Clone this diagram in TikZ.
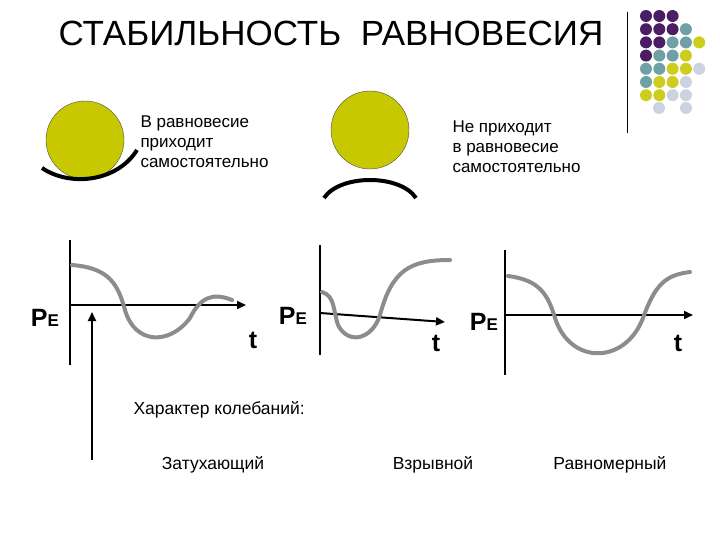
\documentclass[tikz,border=0pt]{standalone}
\usepackage{fontspec}
\setmainfont{Liberation Sans}
\usetikzlibrary{arrows.meta}
\definecolor{olv}{RGB}{200,200,0}
\definecolor{pur}{RGB}{75,30,100}
\definecolor{tea}{RGB}{110,160,165}
\definecolor{ylw}{RGB}{205,205,30}
\definecolor{lgr}{RGB}{205,210,225}
\begin{document}
\begin{tikzpicture}[x=1pt,y=-1pt,
  axis/.style={line width=2pt},
  arr/.style={line width=2pt,-{Triangle[length=9pt,width=8pt]}},
  curve/.style={line width=4pt,color=black!45,line cap=round},
  ball/.style={circle,draw=black!70,fill=olv,minimum size=78pt,inner sep=0pt},
  lbl/.style={font=\fontsize{17}{20}\selectfont,align=left,anchor=north west},
  txt/.style={font=\fontsize{17.5}{20}\selectfont},
  pe/.style={font=\fontsize{25}{25}\selectfont\bfseries},
  dot/.style={circle,inner sep=0pt,minimum size=12pt}]
\useasboundingbox (0,0) rectangle (720,540);
\node (title) at (331,33) {\fontsize{35}{35}\selectfont СТАБИЛЬНОСТЬ\ \ РАВНОВЕСИЯ};
\draw[line width=1pt] (627,12) -- (627,133);
\foreach \r/\cols in {0/{pur,pur,pur},1/{pur,pur,pur,tea},2/{pur,pur,tea,tea,ylw},3/{pur,tea,tea,ylw},4/{tea,tea,ylw,ylw,lgr},5/{tea,ylw,ylw,lgr},6/{ylw,ylw,lgr,lgr}}{
  \foreach \c [count=\i from 0] in \cols {
    \node[dot,fill=\c] (d\r\i) at ({646+13.3*\i},{16+13.2*\r}) {};
  }}
\node[dot,fill=lgr] (d71) at (659,108) {};
\node[dot,fill=lgr] (d73) at (686,108) {};
% balls
\node[ball] (b1) at (85,140) {};
\draw[line width=4pt] (42,168) .. controls (70,187) and (117,182) .. (137,150);
\node[ball] (b2) at (370,130) {};
\draw[line width=4pt] (324,198) .. controls (340,174) and (400,174) .. (416,198);
\node[lbl] (t1) at (137,112) {В равновесие\\приходит\\самостоятельно};
\node[lbl] (t2) at (449,117) {Не приходит\\в равновесие\\самостоятельно};
% graph 1
\coordinate (o1) at (70,305);
\draw[axis] (70,240) -- (70,365);
\coordinate (x1) at (246,305);
\draw[arr] (o1) -- (x1);
\draw[curve] (72,265) .. controls (110,268) and (118,285) .. (125,310) .. controls (135,345) and (170,345) .. (190,318) .. controls (200,298) and (212,292) .. (232,300);
\node[pe] (pe1) at (45,318) {P\fontsize{17}{17}\selectfont E};
\node[pe] (tt1) at (253,340) {t};
\coordinate (a1) at (92,460);
\coordinate (a2) at (92,312);
\draw[arr] (a1) -- (a2);
% graph 2
\draw[axis] (320,245) -- (320,355);
\coordinate (o2) at (320,313);
\coordinate (x2) at (445,322);
\draw[arr] (o2) -- (x2);
\draw[curve] (322,292) .. controls (335,296) and (333,310) .. (338,325) .. controls (348,345) and (372,340) .. (380,315) .. controls (392,270) and (410,260) .. (450,260);
\node[pe] (pe2) at (293,316) {P\fontsize{17}{17}\selectfont E};
\node[pe] (tt2) at (436,343) {t};
% graph 3
\draw[axis] (505,250) -- (505,375);
\coordinate (o3) at (505,315);
\coordinate (x3) at (693,315);
\draw[arr] (o3) -- (x3);
\draw[curve] (508,276) .. controls (540,280) and (548,295) .. (555,318) .. controls (570,365) and (625,365) .. (643,318) .. controls (655,285) and (665,275) .. (690,272);
\node[pe] (pe3) at (484,322) {P\fontsize{17}{17}\selectfont E};
\node[pe] (tt3) at (678,343) {t};
% bottom texts
\node[txt,anchor=west] (ch) at (130,410) {Характер колебаний:};
\node[txt] (z) at (213,465) {Затухающий};
\node[txt] (v) at (433,465) {Взрывной};
\node[txt] (r) at (610,465) {Равномерный};
\end{tikzpicture}
\end{document}
